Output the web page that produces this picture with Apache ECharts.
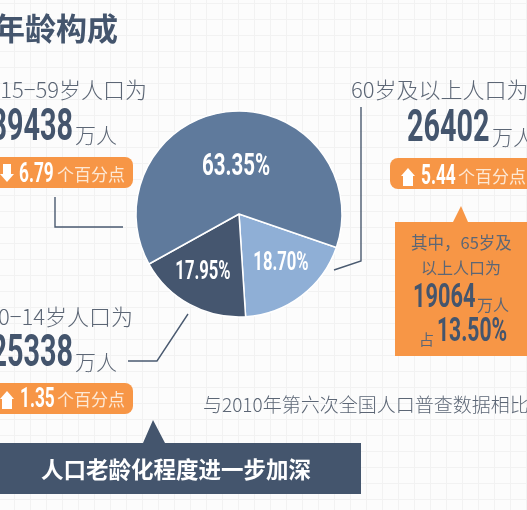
<!DOCTYPE html>
<html>
<head>
<meta charset="utf-8">
<script src="https://cdn.jsdelivr.net/npm/echarts@6/dist/echarts.min.js"></script>
<style>
html, body { margin: 0; padding: 0; background: #fcfcfc; }
#chart {
    width: 527px;
    height: 510px;
    background-color: #fcfcfc;
    background-image:
        linear-gradient(#f2f2f2 1px, transparent 1px),
        linear-gradient(90deg, #f2f2f2 1px, transparent 1px);
    background-size: 16px 16px;
    background-position: 14px 3px;
}
</style>
</head>
<body>
<div id="chart"></div>
<script>
const groups = ['60岁及以上', '0-14岁', '15-59岁'];
const shares = [18.70, 17.95, 63.35];
const groupColors = ['#8fafd6', '#45566f', '#5f7a9c'];

const title = '年龄构成';
const midLabel = '15−59岁人口为';
const midCount = '89438';
const midChange = '6.79';
const oldLabel = '60岁及以上人口为';
const oldCount = '26402';
const oldChange = '5.44';
const youngLabel = '0−14岁人口为';
const youngCount = '25338';
const youngChange = '1.35';
const over65Lines = ['其中，65岁及', '以上人口为'];
const over65Count = '19064';
const over65Share = '13.50%';
const compareNote = '与2010年第六次全国人口普查数据相比';
const banner = '人口老龄化程度进一步加深';

const dark = '#44556d';
const grey = '#5c6675';
const orange = '#f79646';
const pale = '#fde8d4';
const cjk = '"Noto Sans CJK SC"';

function text(x, y, str, size, color, extra) {
    return {
        type: 'text',
        x: x,
        y: y,
        z: 10,
        style: Object.assign({
            text: str,
            fontSize: size,
            fontFamily: cjk,
            fill: color,
            textAlign: 'left',
            textVerticalAlign: 'middle'
        }, extra || {})
    };
}

// DIN-like numerals: no narrow font installed, so squeeze Roboto bold
function digits(x, y, str, size, color, align) {
    const el = text(x, y, str, size, color, {
        fontFamily: 'Roboto',
        fontWeight: 'bold',
        textAlign: align || 'left'
    });
    el.scaleX = 0.64;
    return el;
}

function box(x, y, w, h, r, color) {
    return { type: 'rect', shape: { x: x, y: y, width: w, height: h, r: r }, style: { fill: color } };
}

function arrow(x, y, up) {
    const pts = up
        ? [[x, y - 9], [x + 7, y - 1], [x + 5, y - 1], [x + 5, y + 9], [x - 5, y + 9], [x - 5, y - 1], [x - 7, y - 1]]
        : [[x, y + 9], [x + 7, y + 1], [x + 4, y + 1], [x + 4, y - 9], [x - 4, y - 9], [x - 4, y + 1], [x - 7, y + 1]];
    return { type: 'polygon', shape: { points: pts }, style: { fill: '#ffffff' } };
}

function leader(points) {
    return {
        type: 'polyline',
        shape: { points: points },
        style: { stroke: '#4a5a70', lineWidth: 1.4, fill: 'none' }
    };
}

const elements = [
    text(118, 28, title, 31, dark, { fontWeight: 'bold', textAlign: 'right' }),

    text(147, 90, midLabel, 22, grey, { textAlign: 'right', fontWeight: 300 }),
    digits(73, 129, midCount, 45, dark, 'right'),
    text(75, 135, '万人', 21, grey, { fontWeight: 300 }),
    box(-20, 157, 153, 31, 8, orange),
    arrow(7, 173, false),
    digits(19, 175, midChange, 27, '#ffffff'),
    text(57, 175, '个百分点', 17, pale),
    leader([[55, 197], [55, 227], [123, 227]]),

    text(351, 90, oldLabel, 22, grey, { fontWeight: 300 }),
    digits(407, 130, oldCount, 45, dark),
    text(492, 137, '万人', 21, grey, { fontWeight: 300 }),
    box(390, 158, 160, 31, 8, orange),
    arrow(408, 177, true),
    digits(421, 177, oldChange, 27, '#ffffff'),
    text(458, 177, '个百分点', 17, pale),
    leader([[361, 107], [361, 261], [334, 270]]),

    {
        type: 'polygon',
        shape: { points: [[395, 222], [453, 222], [461, 206], [468, 222], [530, 222], [530, 356], [395, 356]] },
        style: { fill: orange }
    },
    text(411, 243, over65Lines[0], 16.5, grey),
    text(421, 268, over65Lines[1], 16, grey),
    digits(413, 298, over65Count, 34, dark),
    text(477, 305, '万人', 16, grey),
    text(419, 339, '占', 15, grey),
    digits(437, 333, over65Share, 33, dark),

    text(133, 317, youngLabel, 22, grey, { textAlign: 'right', fontWeight: 300 }),
    digits(73, 355, youngCount, 45, dark, 'right'),
    text(75, 362, '万人', 21, grey, { fontWeight: 300 }),
    leader([[128, 361], [157, 361], [188, 314]]),
    box(-20, 383, 153, 31, 8, orange),
    arrow(7, 400, true),
    digits(20, 400, youngChange, 27, '#ffffff'),
    text(57, 400, '个百分点', 17, pale),

    text(203, 405, compareNote, 19, grey, { fontWeight: 300 }),

    {
        type: 'polygon',
        shape: { points: [[0, 443], [143, 443], [153, 420], [165, 443], [361, 443], [361, 494], [0, 494]] },
        style: { fill: dark }
    },
    text(41, 469, banner, 22.5, '#ffffff', { fontWeight: 'bold' }),

    // slice percentages, from the same shares as the pie
    digits(281, 263, shares[0].toFixed(2) + '%', 26, '#ffffff', 'center'),
    digits(203, 272, shares[1].toFixed(2) + '%', 26, '#ffffff', 'center'),
    digits(236, 167, shares[2].toFixed(2) + '%', 32, '#ffffff', 'center')
];

const chart = echarts.init(document.getElementById('chart'));
chart.setOption({
    backgroundColor: 'transparent',
    animation: false,
    series: [{
        type: 'pie',
        center: [239, 214],
        radius: [0, 103],
        startAngle: -19,
        clockwise: true,
        silent: true,
        label: { show: false },
        labelLine: { show: false },
        itemStyle: { borderColor: '#ffffff', borderWidth: 1.5 },
        data: groups.map((name, i) => ({
            name: name,
            value: shares[i],
            itemStyle: { color: groupColors[i] }
        }))
    }],
    graphic: elements
});
</script>
</body>
</html>
